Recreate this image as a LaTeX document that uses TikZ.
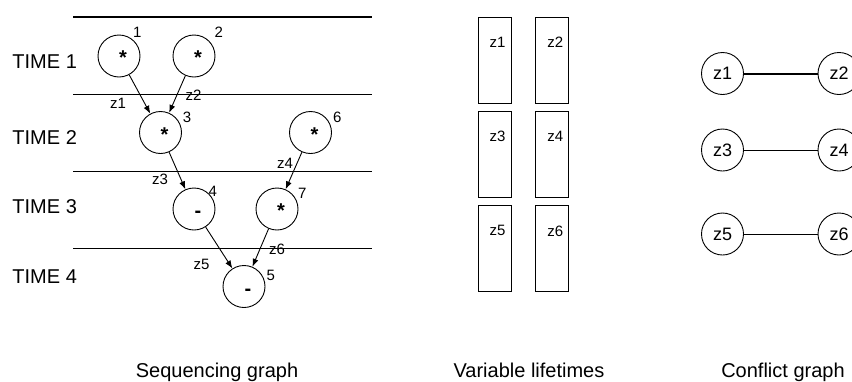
\documentclass[tikz,border=0pt]{standalone}
\usepackage{fontspec}
\setmainfont{Liberation Sans}
\usetikzlibrary{arrows.meta,positioning}

\begin{document}
\begin{tikzpicture}[
    x=1pt, y=-1pt,
    font=\fontsize{20}{24}\selectfont,
    line width=0.9pt,
    op/.style={draw, circle, minimum size=42pt, inner sep=0pt, text height=17pt, text depth=0pt,
      font=\fontsize{20}{22}\selectfont\bfseries, execute at begin node=\hspace*{8pt}},
    num/.style={inner sep=1pt, font=\fontsize{15}{18}\selectfont},
    wire/.style={inner sep=0pt, font=\fontsize{15}{18}\selectfont},
    life/.style={draw, minimum width=33pt, minimum height=86pt, inner sep=0pt},
    lifelbl/.style={anchor=center, xshift=3pt, yshift=-25.5pt, inner sep=0pt, font=\fontsize{15}{18}\selectfont},
    var/.style={draw, circle, minimum size=42pt, inner sep=0pt, font=\fontsize{18}{20}\selectfont},
    arrow/.style={-{Latex[length=8pt, width=6pt]}},
    caption/.style={anchor=base, inner sep=0pt}
  ]
    \clip (0,0) rectangle (852,381);

    % time steps
    \draw[line width=2.2pt] (73,16.7) -- (372,16.7);
    \foreach \y in {94.3,171.3,248.3}
      \draw (73,\y) -- (372,\y);
    \node[anchor=west, inner sep=0pt] (t1) at (12,62) {TIME 1};
    \node[anchor=west, inner sep=0pt] (t2) at (12,138) {TIME 2};
    \node[anchor=west, inner sep=0pt] (t3) at (12,207) {TIME 3};
    \node[anchor=west, inner sep=0pt] (t4) at (12,277) {TIME 4};

    % operations
    \node[op, label={[num]54:1}] (m1) at (119,56) {*};
    \node[op, label={[num, label distance=4pt]41:2}] (m2) at (194,56) {*};
    \node[op, label={[num, label distance=1pt]21:3}] (m3) at (160.5,132.5) {*};
    \node[op, label={[num, label distance=1.5pt]22:6}] (m6) at (310.5,132.5) {*};
    \node[op, label={[num, label distance=-4pt]41:4}] (s4) at (194,209) {-};
    \node[op, label={[num]24:7}] (m7) at (277,209) {*};
    \node[op, label={[num]11:5}] (s5) at (244,286.5) {-};

    \draw[arrow] (m1) -- (m3);
    \draw[arrow] (m2) -- (m3);
    \draw[arrow] (m3) -- (s4);
    \draw[arrow] (m6) -- (m7);
    \draw[arrow] (s4) -- (s5);
    \draw[arrow] (m7) -- (s5);

    \node[wire] (w1) at (118,103) {z1};
    \node[wire] (w2) at (193.5,95) {z2};
    \node[wire] (w3) at (160,179) {z3};
    \node[wire] (w4) at (285,163) {z4};
    \node[wire] (w5) at (201.5,264.5) {z5};
    \node[wire] (w6) at (277,249) {z6};

    % lifetimes
    \node[life, label={[lifelbl]north:z1}] (v1) at (494.5,60) {};
    \node[life, label={[lifelbl]north:z2}, right=24pt of v1] (v2) {};
    \node[life, label={[lifelbl]north:z3}, below=7.5pt of v1] (v3) {};
    \node[life, label={[lifelbl]north:z4}, right=24pt of v3] (v4) {};
    \node[life, label={[lifelbl]north:z5}, below=7.5pt of v3] (v5) {};
    \node[life, label={[lifelbl]north:z6}, right=24pt of v5] (v6) {};

    % conflicts
    \node[var] (c1) at (722.5,73.5) {z1};
    \node[var] (c2) at (839,73.5) {z2};
    \node[var] (c3) at (722.5,150) {z3};
    \node[var] (c4) at (839,150) {z4};
    \node[var] (c5) at (722.5,234) {z5};
    \node[var] (c6) at (839,234) {z6};
    \draw[line width=2pt] (c1) -- (c2);
    \draw (c3) -- (c4);
    \draw (c5) -- (c6);

    \node[caption] (cap1) at (217,377.5) {Sequencing graph};
    \node[caption] (cap2) at (529,377.5) {Variable lifetimes};
    \node[caption] (cap3) at (783,377.5) {Conflict graph};
  \end{tikzpicture}
\end{document}
